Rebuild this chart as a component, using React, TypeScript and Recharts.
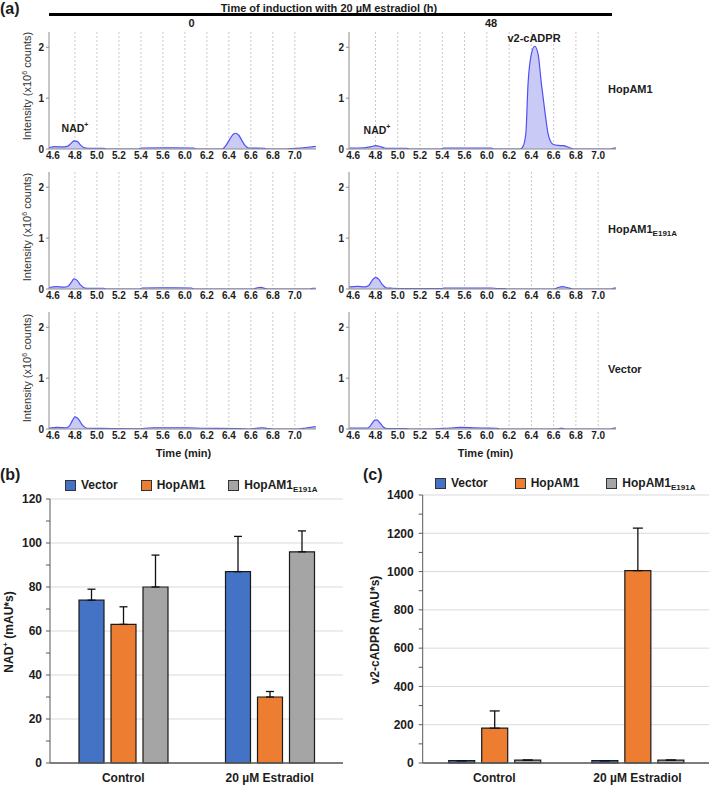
import React from "react";
import { Area, AreaChart, Bar, BarChart, CartesianGrid, ErrorBar, XAxis, YAxis } from "recharts";

// ---- (a) extracted ion chromatograms: [time (min), intensity (x10^6 counts)]
// the time axis in the figure is labelled 4.6 ... 5.6, 6.0 ... 7.0 (12 evenly spaced ticks)
const timeTickLabels = ["4.6", "4.8", "5.0", "5.2", "5.4", "5.6", "6.0", "6.2", "6.4", "6.6", "6.8", "7.0"];
const intensityTicks = [0, 1, 2];

const hopam1At0h = [
  [4.565, 0.03], [4.62, 0.045], [4.68, 0.04], [4.73, 0.05], [4.76, 0.1], [4.79, 0.16], [4.82, 0.15],
  [4.85, 0.08], [4.88, 0.03], [4.92, 0.015], [5.06, 0.015], [5.08, 0], [5.38, 0], [5.4, 0.02],
  [5.7, 0.025], [6.08, 0.02], [6.1, 0], [6.34, 0], [6.37, 0.06], [6.41, 0.2], [6.44, 0.29],
  [6.46, 0.31], [6.49, 0.27], [6.52, 0.16], [6.55, 0.06], [6.58, 0.02], [6.72, 0.015], [6.74, 0],
  [6.92, 0], [7.0, 0.012], [7.1, 0.03], [7.19, 0.05],
];
const hopam1At48h = [
  [4.565, 0.02], [4.7, 0.025], [4.76, 0.045], [4.8, 0.065], [4.84, 0.05], [4.88, 0.02], [4.92, 0.015],
  [5.08, 0.015], [5.1, 0], [5.39, 0], [5.41, 0.02], [5.8, 0.02], [6.04, 0.02], [6.06, 0], [6.3, 0],
  [6.32, 0.03], [6.35, 0.3], [6.37, 1.28], [6.4, 1.87], [6.43, 2.02], [6.46, 1.87], [6.49, 1.28],
  [6.52, 0.76], [6.55, 0.3], [6.59, 0.1], [6.64, 0.07], [6.69, 0.065], [6.75, 0.02], [6.78, 0],
  [7.12, 0], [7.14, 0.02], [7.19, 0.02],
];
const e191aAt0h = [
  [4.565, 0.03], [4.63, 0.045], [4.7, 0.035], [4.74, 0.06], [4.77, 0.14], [4.79, 0.2], [4.82, 0.17],
  [4.85, 0.08], [4.89, 0.02], [4.93, 0.015], [5.06, 0.015], [5.08, 0], [5.39, 0], [5.41, 0.02],
  [5.8, 0.025], [6.06, 0.02], [6.08, 0], [6.62, 0], [6.66, 0.025], [6.69, 0.03], [6.73, 0.01],
  [6.75, 0], [7.14, 0], [7.16, 0.015], [7.19, 0.015],
];
const e191aAt48h = [
  [4.565, 0.04], [4.64, 0.05], [4.7, 0.04], [4.74, 0.07], [4.77, 0.17], [4.8, 0.23], [4.83, 0.19],
  [4.86, 0.09], [4.9, 0.02], [4.95, 0.015], [5.1, 0.01], [5.39, 0.01], [5.42, 0.02], [5.8, 0.02],
  [6.04, 0.02], [6.1, 0.01], [6.16, 0.01], [6.18, 0], [6.6, 0], [6.64, 0.03], [6.68, 0.045],
  [6.72, 0.03], [6.77, 0], [7.12, 0], [7.14, 0.02], [7.19, 0.02],
];
const vectorAt0h = [
  [4.565, 0.02], [4.64, 0.03], [4.72, 0.025], [4.75, 0.06], [4.78, 0.18], [4.8, 0.24], [4.83, 0.2],
  [4.87, 0.07], [4.91, 0.015], [5.12, 0.01], [5.36, 0.005], [5.51, 0.025], [5.8, 0.025], [6.02, 0.025],
  [6.17, 0.015], [6.5, 0.01], [6.59, 0], [6.65, 0.015], [6.7, 0.025], [6.75, 0.01], [6.8, 0],
  [7.03, 0], [7.1, 0.02], [7.19, 0.045],
];
const vectorAt48h = [
  [4.565, 0.02], [4.73, 0.02], [4.76, 0.08], [4.79, 0.17], [4.81, 0.18], [4.84, 0.12], [4.87, 0.04],
  [4.9, 0.01], [5.08, 0.01], [5.1, 0], [5.29, 0], [5.47, 0.02], [5.56, 0.03], [5.76, 0.025],
  [5.94, 0.02], [6.09, 0.015], [6.11, 0], [6.64, 0], [6.67, 0.02], [6.7, 0], [7.12, 0], [7.14, 0.02],
  [7.19, 0.02],
];

// ---- (b) NAD+ and (c) v2-cADPR peak areas (mAU*s)
const groups = ["Control", "20 µM Estradiol"];
const seriesNames = ["Vector", "HopAM1", "HopAM1_E191A"];
const seriesColors = ["#4472c4", "#ed7d31", "#a5a5a5"];

const nadVector = [74, 87];
const nadVectorErr = [5, 16];
const nadHopam1 = [63, 30];
const nadHopam1Err = [8, 2.5];
const nadE191A = [80, 96];
const nadE191AErr = [14.5, 9.5];
const nadTicks = [0, 10, 20, 30, 40, 50, 60, 70, 80, 90, 100, 110, 120];

const cadprVector = [12, 12];
const cadprVectorErr = [0, 0];
const cadprHopam1 = [182, 1005];
const cadprHopam1Err = [90, 222];
const cadprE191A = [15, 15];
const cadprE191AErr = [0, 0];
const cadprTicks = [0, 100, 200, 300, 400, 500, 600, 700, 800, 900, 1000, 1100, 1200, 1300, 1400];

const FONT = "'Liberation Sans', Arial, sans-serif";
const TEXT = "#1c1c1c";

// position on the (unevenly labelled) time axis
const toAxis = (t: number) =>
  t <= 5.6 ? (t - 4.6) / 0.2 : t <= 6.0 ? 5 + (t - 5.6) / 0.4 : 6 + (t - 6.0) / 0.2;

const timeTickPos = timeTickLabels.map((_, i) => i);

const Txt = ({ x, y, size = 11, weight = 700, rotate = false, left = false, color = TEXT, children }: any) => (
  <div
    style={{
      position: "absolute",
      left: x,
      top: y,
      transform: `translate(${left ? "0" : "-50%"}, -50%)${rotate ? " rotate(-90deg)" : ""}`,
      fontSize: size,
      fontWeight: weight,
      color,
      whiteSpace: "nowrap",
      lineHeight: 1,
    }}
  >
    {children}
  </div>
);

const withSub = (name: string, subSize = 8) => {
  const [main, sub] = name.split("_");
  return (
    <>
      {main}
      {sub && <span style={{ fontSize: subSize, position: "relative", top: 3 }}>{sub}</span>}
    </>
  );
};

const Chromatogram = ({ points, left, top, width, yAxisWidth, xDomain }: any) => {
  const data = points.map(([t, v]: number[]) => ({ x: toAxis(t), v }));
  return (
    <div style={{ position: "absolute", left, top }}>
      <AreaChart width={width} height={150} data={data} margin={{ top: 12, right: 4, bottom: 3, left: 0 }}>
        <CartesianGrid horizontal={false} verticalValues={timeTickPos.slice(1)} stroke="#c8c8c8" strokeDasharray="2 2" />
        <XAxis
          type="number"
          dataKey="x"
          domain={xDomain}
          allowDataOverflow
          ticks={timeTickPos}
          interval={0}
          tickFormatter={(v) => timeTickLabels[v]}
          tickLine={false}
          tickSize={0}
          tickMargin={3}
          height={18}
          axisLine={{ stroke: "#8c8c8c" }}
          tick={{ fontSize: 10, fontWeight: 700, fill: TEXT }}
        />
        <YAxis
          type="number"
          domain={[0, 2.3]}
          allowDataOverflow
          ticks={intensityTicks}
          width={yAxisWidth}
          tickSize={3}
          tickMargin={2}
          axisLine={{ stroke: "#8c8c8c" }}
          tickLine={{ stroke: "#8c8c8c" }}
          tick={{ fontSize: 10, fontWeight: 700, fill: TEXT }}
        />
        <Area
          type="monotone"
          dataKey="v"
          stroke="#5050f2"
          strokeWidth={1.2}
          fill="#cacaf6"
          fillOpacity={1}
          isAnimationActive={false}
        />
      </AreaChart>
    </div>
  );
};

const BarLegend = ({ x, y, gap }: any) => (
  <div
    style={{
      position: "absolute",
      left: x,
      top: y,
      transform: "translateY(-50%)",
      display: "flex",
      alignItems: "center",
      fontSize: 12,
      fontWeight: 700,
      color: TEXT,
      lineHeight: 1,
    }}
  >
    {seriesNames.map((name, i) => (
      <div key={name} style={{ display: "flex", alignItems: "center", marginRight: gap }}>
        <span
          style={{
            display: "inline-block",
            width: 9,
            height: 9,
            background: seriesColors[i],
            border: "1px solid #333",
            marginRight: 5,
          }}
        />
        <span>{withSub(name)}</span>
      </div>
    ))}
  </div>
);

const PeakAreaChart = ({ data, left, width, marginTop, yAxisWidth, max, ticks, major, barSize, capWidth }: any) => (
  <div style={{ position: "absolute", left, top: 460 }}>
    <BarChart
      width={width}
      height={325}
      data={data}
      margin={{ top: marginTop, right: left > 0 ? 0 : 2, bottom: 0, left: 0 }}
      barSize={barSize}
      barGap={7}
    >
      <CartesianGrid vertical={false} horizontalValues={ticks.filter((v: number) => v % major === 0)} stroke="#dadada" />
      <XAxis
        dataKey="group"
        tickLine={false}
        tickSize={0}
        tickMargin={10}
        height={22}
        axisLine={{ stroke: "#595959", strokeWidth: 1.5 }}
        tick={{ fontSize: 12, fontWeight: 700, fill: TEXT }}
      />
      <YAxis
        type="number"
        domain={[0, max]}
        ticks={ticks}
        interval={0}
        tickFormatter={(v) => (v % major === 0 ? String(v) : "")}
        width={yAxisWidth}
        tickSize={4}
        tickMargin={left > 0 ? 5 : 4}
        axisLine={{ stroke: "#595959" }}
        tickLine={{ stroke: "#595959" }}
        tick={{ fontSize: 12, fontWeight: 700, fill: TEXT }}
      />
      {["vector", "hopam1", "e191a"].map((key, i) => (
        <Bar
          key={key}
          dataKey={key}
          name={seriesNames[i]}
          fill={seriesColors[i]}
          stroke="#1a1a1a"
          strokeWidth={1.2}
          isAnimationActive={false}
        >
          <ErrorBar dataKey={`${key}Err`} width={capWidth} stroke="#111" strokeWidth={1.3} direction="y" />
        </Bar>
      ))}
    </BarChart>
  </div>
);

export default function App() {
  const nadData = groups.map((group, i) => ({
    group,
    vector: nadVector[i],
    vectorErr: [0, nadVectorErr[i]],
    hopam1: nadHopam1[i],
    hopam1Err: [0, nadHopam1Err[i]],
    e191a: nadE191A[i],
    e191aErr: [0, nadE191AErr[i]],
  }));
  const cadprData = groups.map((group, i) => ({
    group,
    vector: cadprVector[i],
    vectorErr: [0, cadprVectorErr[i]],
    hopam1: cadprHopam1[i],
    hopam1Err: [0, cadprHopam1Err[i]],
    e191a: cadprE191A[i],
    e191aErr: [0, cadprE191AErr[i]],
  }));

  const rows = [
    { label: "HopAM1", left: hopam1At0h, right: hopam1At48h },
    { label: "HopAM1_E191A", left: e191aAt0h, right: e191aAt48h },
    { label: "Vector", left: vectorAt0h, right: vectorAt48h },
  ];

  return (
    <div
      style={{
        position: "absolute",
        left: 0,
        top: 0,
        width: 709,
        height: 785,
        background: "#fff",
        fontFamily: FONT,
        overflow: "hidden",
      }}
    >
      {/* (a) */}
      <Txt x={0} y={9} size={16} left>(a)</Txt>
      <Txt x={329} y={7.5}>Time of induction with 20 µM estradiol (h)</Txt>
      <div style={{ position: "absolute", left: 49, top: 13, width: 563, height: 2.5, background: "#000" }} />
      <Txt x={191.5} y={23}>0</Txt>
      <Txt x={491} y={23}>48</Txt>

      {rows.map((row, r) => (
        <React.Fragment key={row.label}>
          <Chromatogram points={row.left} left={0} top={20 + 140 * r} width={320} yAxisWidth={49} xDomain={[-0.18, 11.96]} />
          <Chromatogram points={row.right} left={320} top={20 + 140 * r} width={300} yAxisWidth={29} xDomain={[-0.19, 11.8]} />
          <Txt x={608} y={89 + 140 * r} left>
            {withSub(row.label)}
          </Txt>
          <Txt x={27} y={86 + 141 * r} size={11} weight={400} rotate color="#333">
            Intensity (x10<sup style={{ fontSize: 7 }}>6</sup> counts)
          </Txt>
        </React.Fragment>
      ))}

      <Txt x={75} y={127} size={10.5}>
        NAD<sup style={{ fontSize: 7 }}>+</sup>
      </Txt>
      <Txt x={377} y={129} size={10.5}>
        NAD<sup style={{ fontSize: 7 }}>+</sup>
      </Txt>
      <Txt x={534} y={37.5}>v2-cADPR</Txt>

      <Txt x={183.5} y={452.5}>Time (min)</Txt>
      <Txt x={485.5} y={452.5}>Time (min)</Txt>

      {/* (b) */}
      <Txt x={0} y={475} size={16} left>(b)</Txt>
      <BarLegend x={65} y={485} gap={23} />
      <PeakAreaChart
        data={nadData}
        left={0}
        width={345}
        marginTop={39}
        yAxisWidth={50}
        max={120}
        ticks={nadTicks}
        major={20}
        barSize={25}
        capWidth={4}
      />
      <Txt x={8} y={632} size={12} rotate>
        NAD<sup style={{ fontSize: 8 }}>+</sup> (mAU*s)
      </Txt>

      {/* (c) */}
      <Txt x={363} y={475} size={16} left>(c)</Txt>
      <BarLegend x={435} y={483} gap={27} />
      <PeakAreaChart
        data={cadprData}
        left={350}
        width={359}
        marginTop={35}
        yAxisWidth={72.7}
        max={1400}
        ticks={cadprTicks}
        major={200}
        barSize={26}
        capWidth={5}
      />
      <Txt x={375} y={630} size={12} rotate>
        v2-cADPR (mAU*s)
      </Txt>
    </div>
  );
}
